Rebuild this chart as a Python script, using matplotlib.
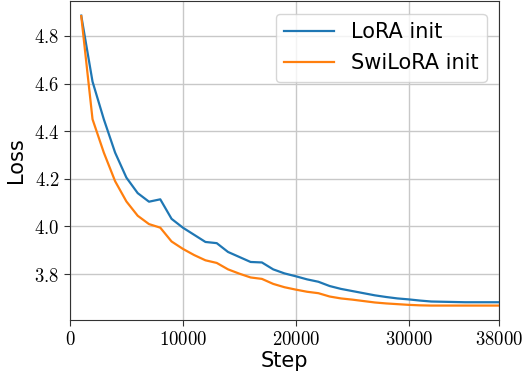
import matplotlib
matplotlib.use('Agg')
import matplotlib.pyplot as plt
from matplotlib.ticker import FuncFormatter

plt.rcParams['mathtext.fontset'] = 'cm'

steps = list(range(1000, 39000, 1000))

lora_loss = [4.885, 4.608, 4.45, 4.31, 4.205, 4.14, 4.104, 4.114, 4.032, 3.995,
             3.965, 3.935, 3.93, 3.893, 3.872, 3.851, 3.849, 3.82, 3.803, 3.791,
             3.778, 3.768, 3.75, 3.738, 3.729, 3.72, 3.711, 3.704, 3.698, 3.694,
             3.689, 3.685, 3.684, 3.683, 3.682, 3.682, 3.682, 3.682]

swilora_loss = [4.883, 4.45, 4.31, 4.19, 4.105, 4.045, 4.01, 3.995, 3.937, 3.906,
                3.88, 3.858, 3.847, 3.82, 3.802, 3.786, 3.78, 3.759, 3.745, 3.735,
                3.726, 3.72, 3.706, 3.698, 3.693, 3.687, 3.681, 3.677, 3.674, 3.671,
                3.669, 3.668, 3.668, 3.668, 3.668, 3.668, 3.668, 3.668]

x_ticks = [0, 10000, 20000, 30000, 38000]
y_ticks = [3.8, 4.0, 4.2, 4.4, 4.6, 4.8]

fig, ax = plt.subplots(figsize=(5.22, 3.77), dpi=100)
fig.subplots_adjust(left=0.134, right=0.956, top=0.997, bottom=0.151)

ax.plot(steps, lora_loss, color='tab:blue', lw=1.6, label='LoRA init')
ax.plot(steps, swilora_loss, color='tab:orange', lw=1.6, label='SwiLoRA init')

ax.set_xlim(0, 38000)
ax.set_xticks(x_ticks)
ax.set_yticks(y_ticks)
ax.xaxis.set_major_formatter(FuncFormatter(lambda v, p: r'$%d$' % v))
ax.yaxis.set_major_formatter(FuncFormatter(lambda v, p: r'$%.1f$' % v))
ax.tick_params(labelsize=13.5, length=4, color='#333333')

ax.set_xlabel('Step', fontsize=15, labelpad=1)
ax.set_ylabel('Loss', fontsize=15, labelpad=6)
ax.grid(True, color='#c8c8c8', lw=1)
for s in ax.spines.values():
    s.set_color('#333333')

ax.legend(loc='upper right', fontsize=15, framealpha=0.8, handlelength=2.4,
          labelspacing=0.55, borderaxespad=0.6)

fig.savefig('out.png', dpi=100)
